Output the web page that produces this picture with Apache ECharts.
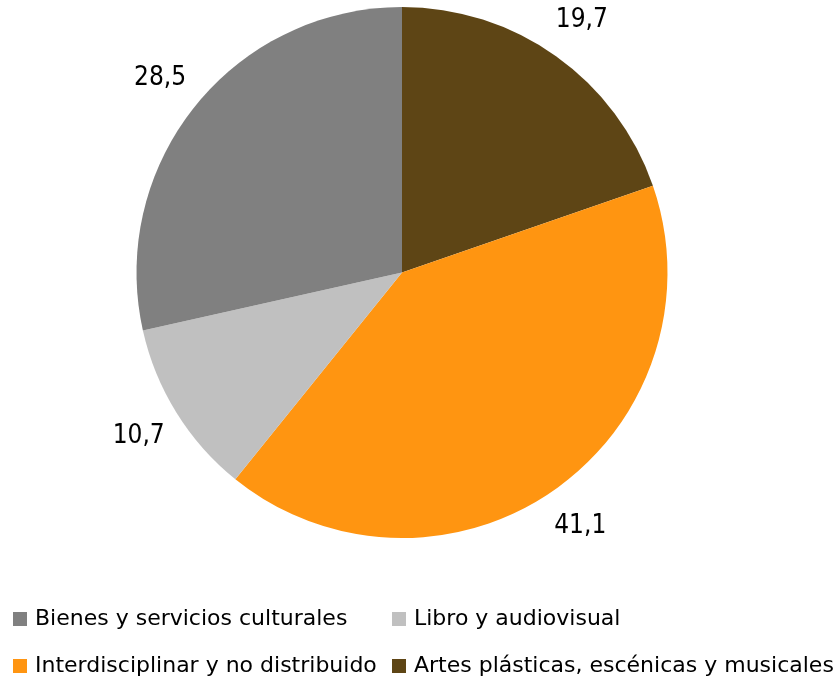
<!DOCTYPE html>
<html>
<head>
<meta charset="utf-8">
<script src="https://cdn.jsdelivr.net/npm/echarts@6/dist/echarts.min.js"></script>
<style>
  html, body { margin: 0; padding: 0; background: #fff; }
  #chart { width: 835px; height: 682px; }
</style>
</head>
<body>
<div id="chart"></div>
<script>
// slices in clockwise order from 12 o'clock
const categories = [
  "Artes plásticas, escénicas y musicales",
  "Interdisciplinar y no distribuido",
  "Libro y audiovisual",
  "Bienes y servicios culturales"
];
const values = [19.7, 41.1, 10.7, 28.5];
const colors = ["#5e4515", "#ff9511", "#c0c0c0", "#808080"];

const legendLeft = ["Bienes y servicios culturales", "Interdisciplinar y no distribuido"];
const legendRight = ["Libro y audiovisual", "Artes plásticas, escénicas y musicales"];

const font = "'DejaVu Sans', sans-serif";
const labelFont = "'DejaVu Sans Condensed', 'DejaVu Sans', sans-serif";

function pieData() {
  return categories.map((c, i) => ({ name: c, value: values[i] }));
}

let container = document.getElementById("chart");
let myChart = echarts.init(container),
  option;

function legendAt(left, data) {
  return {
    left: left,
    top: 608,
    orient: "vertical",
    icon: "rect",
    itemWidth: 14,
    itemHeight: 14,
    itemGap: 25,
    selectedMode: false,
    textStyle: { fontFamily: font, fontSize: 22, color: "#000", lineHeight: 22, padding: [0, 0, 0, 3] },
    padding: 0,
    data: data
  };
}

option = {
  animation: false,
  color: colors,
  legend: [legendAt(13, legendLeft), legendAt(392, legendRight)],
  series: [
    {
      name: "main",
      type: "pie",
      center: [402, 272.5],
      radius: [0, 265.5],
      startAngle: 90,
      clockwise: true,
      label: { show: false },
      labelLine: { show: false },
      emphasis: { disabled: true },
      data: pieData()
    },
    {
      // transparent ring just to place the value labels outside
      name: "labels",
      type: "pie",
      center: [402, 272.5],
      radius: [287, 327],
      startAngle: 90,
      clockwise: true,
      silent: true,
      legendHoverLink: false,
      itemStyle: { color: "rgba(0,0,0,0)" },
      label: {
        show: true,
        position: "inside",
        fontFamily: labelFont,
        fontSize: 26,
        color: "#000",
        formatter: (p) => p.value.toFixed(1).replace(".", ",")
      },
      labelLine: { show: false },
      emphasis: { disabled: true },
      data: pieData()
    }
  ]
};

if (option && typeof option === "object") myChart.setOption(option);
window.addEventListener("resize", function (event) {
  myChart.resize();
});
</script>
</body>
</html>
